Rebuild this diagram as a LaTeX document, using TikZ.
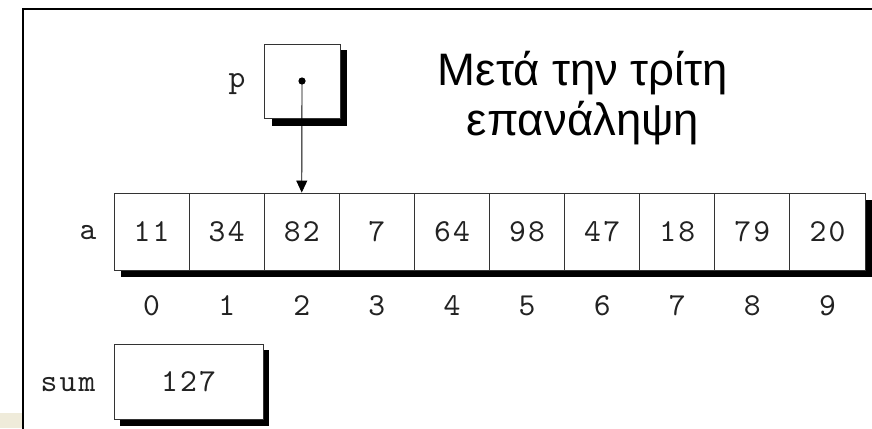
\documentclass[tikz,border=0pt]{standalone}
\usepackage{fontspec}
\setmainfont{Liberation Sans}
\newfontfamily\monof[LetterSpace=7]{lmmono10-regular.otf}
\usetikzlibrary{arrows.meta}
\definecolor{beigecol}{HTML}{EFEBDA}
\definecolor{boxline}{HTML}{333333}
\definecolor{txt}{HTML}{222222}
\begin{document}
\begin{tikzpicture}[x=1pt,y=-1pt,
  mono/.style={font=\monof\fontsize{32}{32}\selectfont, text=txt, inner sep=0pt},
  cell/.style={mono, draw=boxline, line width=0.9pt, fill=white,
    minimum width=75.1pt, minimum height=77pt, anchor=center},
  shadowbox/.style={fill=black},
  title/.style={font=\fontsize{45.5}{50}\selectfont, align=center, inner sep=0pt}]
\useasboundingbox (0,0) rectangle (872,428);
\fill[beigecol] (0,413) rectangle (22,428);
\draw[line width=2.4pt] (23,440) -- (23,9) -- (885,9);

% p box
\fill[shadowbox] (272,50) rectangle (347,126);
\node[cell, minimum width=76pt, minimum height=74pt] (pbox) at (302,81) {};
\fill (pbox.center) circle (3.6pt);
\coordinate (pdot) at (pbox.center);
\node[mono] (plab) at (237,84) {p};

% array
\fill[shadowbox] (121,200) rectangle (872,277);
\foreach \v [count=\i from 0] in {11,34,82,7,64,98,47,18,79,20} {
  \node[cell] (c\i) at ({114+37.55+75.1*\i},231.5) {\v};
  \node[mono] (i\i) at ({114+37.55+75.1*\i},306) {\i};
}
\node[mono] (alab) at (88,233) {a};

\draw[line width=0.9pt, -{Triangle[length=12pt,width=11pt]}] (pdot) -- (c2.north);

% sum
\fill[shadowbox] (120,350) rectangle (269,426);
\node[cell, minimum width=149pt, minimum height=75pt] (sbox) at (188.5,381.5) {127};
\node[mono] (slab) at (68,385) {sum};

% title
\node[title] (t1) at (583,73) {Μετά την τρίτη};
\node[title] (t2) at (583,123) {επανάληψη};
\end{tikzpicture}
\end{document}
